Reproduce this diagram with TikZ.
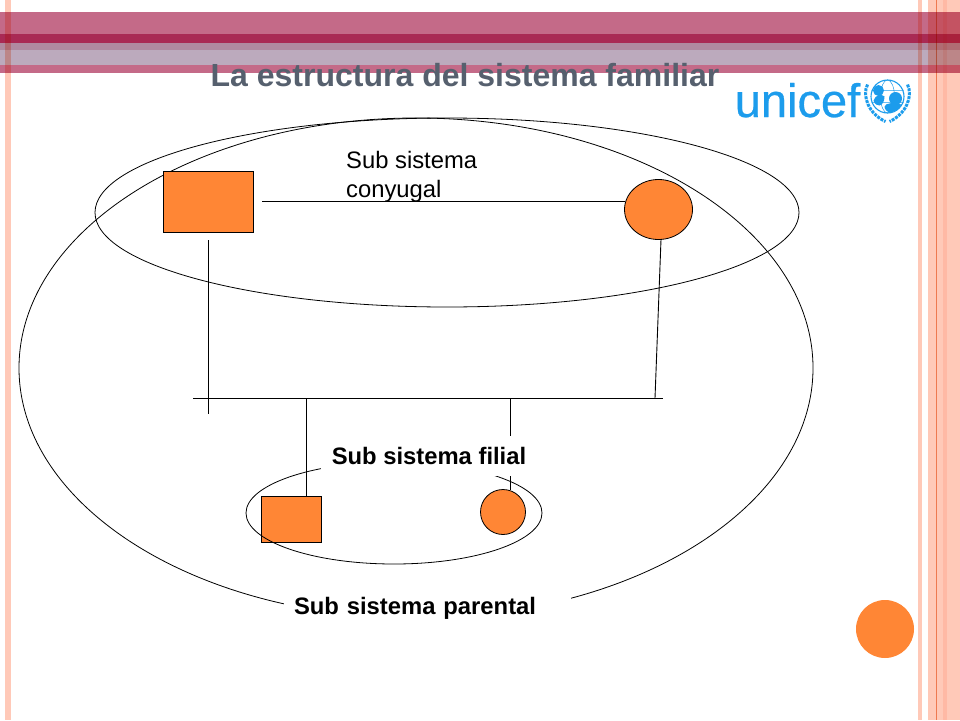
\documentclass[tikz,border=0pt]{standalone}
\usepackage{fontspec}
\setmainfont{Liberation Sans}
\newfontfamily\logofont[FakeBold=0.6]{Liberation Sans}
\usetikzlibrary{shapes.geometric}
\definecolor{bandrose}{HTML}{C46A88}
\definecolor{banddark}{HTML}{A92A54}
\definecolor{bandmauve}{HTML}{B08AA0}
\definecolor{bandpale}{HTML}{BCAABD}
\definecolor{stripe}{HTML}{FFC9B8}
\definecolor{stripeline}{HTML}{EE9A70}
\definecolor{shapeorange}{HTML}{FF8635}
\definecolor{titlegrey}{HTML}{56606E}
\definecolor{uniblue}{HTML}{1C9CEC}
\tikzset{
  x=1pt,y=-1pt,
  band/.style={fill=#1,draw=none},
  strip/.style={fill=stripe,draw=none},
  solid shape/.style={draw=black,fill=shapeorange,line width=.8pt,inner sep=0pt},
  ring/.style={draw=black,line width=.8pt,fill=none,ellipse,inner sep=0pt},
  link/.style={draw=black,line width=.9pt},
  lab/.style={font=\fontsize{23.8}{24}\selectfont\bfseries,fill=white,inner sep=0pt,text=black},
  wreath/.style={draw=uniblue,line width=3pt,dash pattern=on 3pt off 1pt},
}
\begin{document}
\begin{tikzpicture}
\useasboundingbox (0,0) rectangle (960,720);
\fill[white] (0,0) rectangle (960,720);
% bands
\fill[band=bandrose] (0,12) rectangle (960,34);
\fill[band=banddark] (0,34) rectangle (960,43);
\fill[band=bandmauve] (0,43) rectangle (960,50);
\fill[band=bandpale] (0,50) rectangle (960,65);
\fill[band=bandrose] (0,65) rectangle (960,73);
% page strips
\begin{scope}[blend mode=multiply]
\fill[strip] (5,0) rectangle (11,720);
\fill[strip] (918,0) rectangle (922,720);
\fill[strip] (928,0) rectangle (960,720);
\fill[strip,opacity=.35] (943,0) rectangle (947,720);
\draw[stripeline,line width=1pt] (936.5,0) -- (936.5,720);
\end{scope}
% title
\node[font=\fontsize{32}{32}\selectfont\bfseries,text=titlegrey,inner sep=0pt,anchor=base] (title) at (465,86) {La estructura del sistema familiar};
% logo
\node[font=\logofont\fontsize{47}{47}\selectfont,text=uniblue,inner sep=0pt,anchor=base] (logo) at (797.5,117) {unicef};
\begin{scope}[shift={(887.5,96.5)}]
  \draw[uniblue,line width=1.1pt] (0,0) circle (16.5);
  \draw[uniblue,line width=.5pt] (0,0) ellipse (7 and 16.5) (-16,-6) -- (16,-6) (-16,6) -- (16,6);
  \fill[uniblue] (-9,-6) circle (5.5) (8,2) circle (6.5);
  \fill[uniblue] (-14,4) .. controls (-12,-2) and (-6,-3) .. (-3,0) .. controls (-3,5) and (-5,8) .. (-8,9) .. controls (-10,9) and (-13,8) .. (-14,4) -- cycle;
  \fill[uniblue] (-3,10) .. controls (-1,6) and (5,6) .. (14,8) .. controls (12,12) and (8,15) .. (3,16) .. controls (0,16) and (-3,13) .. (-3,10) -- cycle;
  \draw[wreath] (-20,-12) .. controls (-26,0) and (-18,18) .. (-2,25);
  \draw[wreath] (20,-12) .. controls (26,0) and (18,18) .. (2,25);
\end{scope}
% rings
\node[ring,minimum width=794pt,minimum height=500pt] (parental) at (416,368) {};
\node[ring,minimum width=704pt,minimum height=189pt] (conyugal) at (447,212.5) {};
% people
\node[solid shape,rectangle,minimum width=90pt,minimum height=61pt] (father) at (208.5,201.5) {};
\node[solid shape,ellipse,minimum width=68pt,minimum height=60pt] (mother) at (658.5,209.5) {};
\node[solid shape,rectangle,minimum width=60pt,minimum height=46pt] (son) at (291.5,519) {};
\node[solid shape,circle,minimum size=45pt] (daughter) at (503,512) {};
\coordinate (coupleL) at (262,201.5);
\coordinate (fatherDown) at (208.5,240);
\coordinate (fatherEnd) at (208.5,414);
\coordinate (motherStart) at (661,239.5);
\coordinate (motherEnd) at (655,398);
\coordinate (busL) at (193,398);
\coordinate (busR) at (663,398);
\coordinate (sonUp) at (306,398);
\coordinate (dauUp) at (510,398);
\coordinate (dauA) at (510,436);
\coordinate (dauB) at (510.5,474);
\coordinate (dauC) at (510.5,490);
\draw[link,shorten >=-1pt] (coupleL) -- (mother.west |- coupleL);
\draw[link] (fatherDown) -- (fatherEnd);
\draw[link] (motherStart) -- (motherEnd);
\draw[link] (busL) -- (busR);
\draw[link] (sonUp) -- (sonUp |- son.north);
\draw[link] (dauUp) -- (dauA);
\draw[link] (dauB) -- (dauC);
% small ring
\node[ring,minimum width=296pt,minimum height=102pt] (filialring) at (394,513) {};
% labels
\node[lab,minimum width=216pt,minimum height=40pt] (filial) at (429,456) {Sub sistema filial};
\node[lab,minimum width=287pt,minimum height=35pt,text width=267pt,inner xsep=10pt,align=left] (parlab) at (427.5,608.5) {Sub sistema parental};
\node[font=\fontsize{23.8}{29.5}\selectfont,align=left,anchor=north west,inner sep=0pt,text=black] (conylab) at (346,151) {Sub sistema\\conyugal};
% decorative dot
\fill[shapeorange] (885,629) circle (29);
\end{tikzpicture}
\end{document}
